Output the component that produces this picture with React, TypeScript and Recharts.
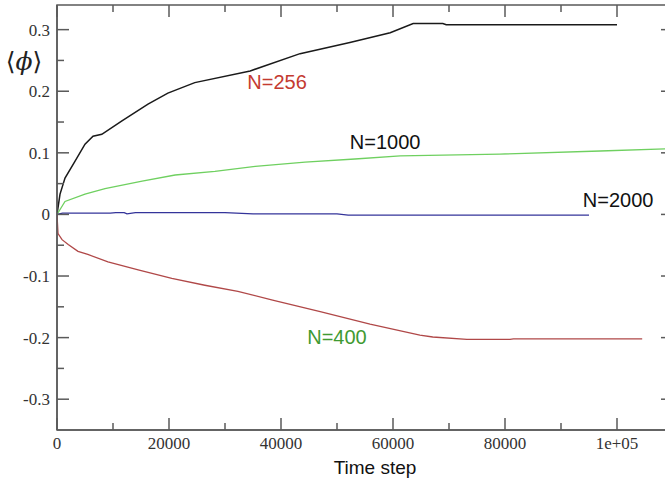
import { Line, LineChart, ReferenceArea, ReferenceDot, XAxis, YAxis } from "recharts";

// time steps / <phi> values, one pair of arrays per system size
const T256 = [0, 540, 1430, 3200, 5000, 6430, 8000, 11600, 16250, 19800, 24600, 34500, 43400, 52300, 59500, 63600, 68900, 69500, 100000];
const V256 = [0, 0.033, 0.059, 0.086, 0.114, 0.127, 0.13, 0.152, 0.179, 0.197, 0.214, 0.233, 0.261, 0.279, 0.295, 0.31, 0.31, 0.308, 0.308];

const T1000 = [0, 1430, 5000, 8570, 15200, 21100, 28200, 35400, 44300, 53200, 61300, 79100, 97000, 110000];
const V1000 = [0, 0.021, 0.033, 0.042, 0.054, 0.064, 0.07, 0.078, 0.085, 0.09, 0.095, 0.098, 0.103, 0.107];

const T2000 = [0, 1000, 9500, 10500, 12000, 12500, 14000, 30000, 35000, 50000, 52000, 95000];
const V2000 = [0, 0.002, 0.002, 0.003, 0.003, 0.001, 0.003, 0.003, 0.001, 0.001, -0.001, -0.001];

const T400 = [0, 180, 900, 2000, 3750, 5500, 9100, 14500, 20500, 26400, 32300, 38500, 47000, 55900, 64800, 67100, 73200, 80900, 81500, 104500];
const V400 = [0, -0.031, -0.041, -0.049, -0.06, -0.065, -0.077, -0.09, -0.104, -0.115, -0.125, -0.139, -0.158, -0.178, -0.196, -0.199, -0.203, -0.203, -0.202, -0.202];

const X_MAJOR = [0, 20000, 40000, 60000, 80000, 100000];
const X_MINOR = [10000, 30000, 50000, 70000, 90000];
const X_LABELS = ["0", "20000", "40000", "60000", "80000", "1e+05"];
const Y_MAJOR = [-0.3, -0.2, -0.1, 0, 0.1, 0.2, 0.3];
const Y_MINOR = [-0.25, -0.15, -0.05, 0.05, 0.15, 0.25];
const Y_LABELS = ["-0.3", "-0.2", "-0.1", "0", "0.1", "0.2", "0.3"];

const SERIES = [
  { name: "N=256", t: T256, v: V256, color: "#1a1a1a", width: 1.5 },
  { name: "N=1000", t: T1000, v: V1000, color: "#6fd060", width: 1.3 },
  { name: "N=2000", t: T2000, v: V2000, color: "#34349a", width: 1.3 },
  { name: "N=400", t: T400, v: V400, color: "#b04848", width: 1.3 },
];

// curve labels (colours swapped like in the original figure)
const TAGS = [
  { text: "N=256", t: 39300, v: 0.215, color: "#c43a30" },
  { text: "N=1000", t: 58600, v: 0.118, color: "#111" },
  { text: "N=2000", t: 100200, v: 0.024, color: "#111" },
  { text: "N=400", t: 50000, v: -0.199, color: "#3f9a32" },
];

const W = 680;
const H = 483;
const M = { top: 5, right: 7, left: 0, bottom: 0 };
const LEFT = 57;
const RIGHT = W - M.right;
const TOP = M.top;
const BOTTOM = 430;
const AXIS = "#5a5a5a";
const SERIF = "Liberation Serif";

function yTick(props: any) {
  const { y, payload } = props;
  const i = Y_MAJOR.indexOf(payload.value);
  const len = i >= 0 ? 12 : 7;
  return (
    <g>
      <line x1={LEFT} x2={LEFT + len} y1={y} y2={y} stroke={AXIS} strokeWidth={1.5} />
      <line x1={RIGHT} x2={RIGHT - len} y1={y} y2={y} stroke={AXIS} strokeWidth={1.5} />
      {i >= 0 && (
        <text x={LEFT - 7} y={y + 6} textAnchor="end" fontSize={17} fill="#333" fontFamily={SERIF}>
          {Y_LABELS[i]}
        </text>
      )}
    </g>
  );
}

function xTick(props: any) {
  const { x, payload } = props;
  const i = X_MAJOR.indexOf(payload.value);
  const len = i >= 0 ? 12 : 7;
  return (
    <g>
      <line x1={x} x2={x} y1={BOTTOM} y2={BOTTOM - len} stroke={AXIS} strokeWidth={1.5} />
      <line x1={x} x2={x} y1={TOP} y2={TOP + len} stroke={AXIS} strokeWidth={1.5} />
      {i >= 0 && (
        <text x={x} y={BOTTOM + 19} textAnchor="middle" fontSize={17} fill="#333" fontFamily={SERIF}>
          {X_LABELS[i]}
        </text>
      )}
    </g>
  );
}

function PhiLabel() {
  return (
    <text x={24} y={70} textAnchor="middle" fontSize={25} fill="#222" fontFamily="DejaVu Serif">
      ⟨<tspan fontStyle="italic">ϕ</tspan>⟩
    </text>
  );
}

export default function App() {
  return (
    <div style={{ position: "absolute", left: 0, top: 0, width: 665, height: 483, overflow: "hidden", background: "#fff" }}>
      <LineChart width={W} height={H} margin={M}>
        <XAxis
          type="number"
          dataKey="t"
          domain={[0, 110000]}
          allowDataOverflow
          ticks={[...X_MAJOR, ...X_MINOR].sort((a, b) => a - b)}
          interval={0}
          tickLine={false}
          tick={xTick}
          axisLine={{ stroke: AXIS, strokeWidth: 1.5 }}
          height={H - BOTTOM}
          label={{ value: "Time step", position: "insideBottom", offset: 9, dx: 10, fontSize: 19, fill: "#111", fontFamily: "Liberation Sans, Arial, sans-serif" }}
        />
        <YAxis
          type="number"
          dataKey="v"
          domain={[-0.35, 0.34]}
          allowDataOverflow
          ticks={[...Y_MAJOR, ...Y_MINOR].sort((a, b) => a - b)}
          interval={0}
          width={LEFT}
          tickLine={false}
          tick={yTick}
          axisLine={{ stroke: AXIS, strokeWidth: 1.5 }}
          label={<PhiLabel />}
        />
        <ReferenceArea x1={0} x2={110000} y1={-0.35} y2={0.34} fill="none" fillOpacity={0} stroke={AXIS} strokeWidth={1.5} />
        {SERIES.map((s) => (
          <Line
            key={s.name}
            data={s.t.map((t, i) => ({ t, v: s.v[i] }))}
            dataKey="v"
            type="linear"
            stroke={s.color}
            strokeWidth={s.width}
            dot={false}
            isAnimationActive={false}
          />
        ))}
        {TAGS.map((g) => (
          <ReferenceDot
            key={g.text}
            x={g.t}
            y={g.v}
            r={0}
            fill="none"
            stroke="none"
            label={{ value: g.text, position: "center", fill: g.color, fontSize: 20, fontFamily: "Liberation Sans, Arial, sans-serif" }}
          />
        ))}
      </LineChart>
    </div>
  );
}
